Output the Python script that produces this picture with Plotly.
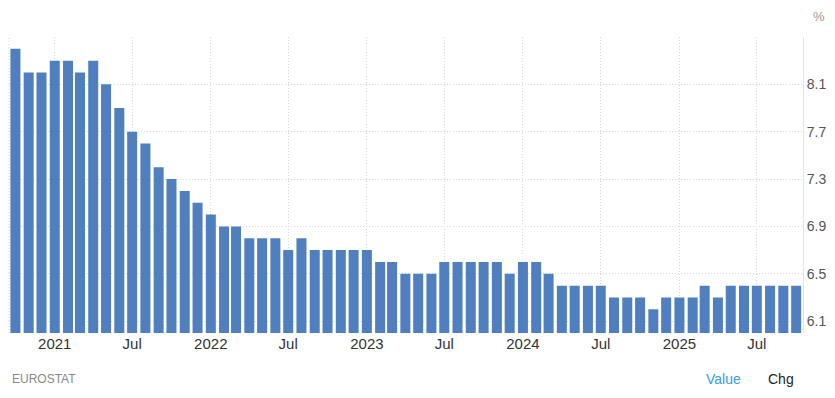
import plotly.graph_objects as go
import pandas as pd

months = pd.date_range("2020-10-01", "2025-10-01", freq="MS").strftime("%Y-%m-%d").tolist()
values = [
    8.4, 8.2, 8.2,
    8.3, 8.3, 8.2, 8.3, 8.1, 7.9, 7.7, 7.6, 7.4, 7.3, 7.2, 7.1,
    7.0, 6.9, 6.9, 6.8, 6.8, 6.8, 6.7, 6.8, 6.7, 6.7, 6.7, 6.7,
    6.7, 6.6, 6.6, 6.5, 6.5, 6.5, 6.6, 6.6, 6.6, 6.6, 6.6, 6.5,
    6.6, 6.6, 6.5, 6.4, 6.4, 6.4, 6.4, 6.3, 6.3, 6.3, 6.2, 6.3,
    6.3, 6.3, 6.4, 6.3, 6.4, 6.4, 6.4, 6.4, 6.4, 6.4,
]
x_tickvals = ["2021-01-01", "2021-07-01", "2022-01-01", "2022-07-01", "2023-01-01",
              "2023-07-01", "2024-01-01", "2024-07-01", "2025-01-01", "2025-07-01"]
x_ticktext = ["2021", "Jul", "2022", "Jul", "2023", "Jul", "2024", "Jul", "2025", "Jul"]
y_tickvals = [6.1, 6.5, 6.9, 7.3, 7.7, 8.1, 8.5]
y_ticktext = ["6.1", "6.5", "6.9", "7.3", "7.7", "8.1", ""]

FONT = "Liberation Sans, Arial, sans-serif"
DAY_MS = 86400000
GRID = "#d6d6d6"
DASH = "1px,2px"

fig = go.Figure(go.Bar(
    x=months, y=values,
    width=[23.4 * DAY_MS] * len(months),
    marker=dict(color="#4f7fbf", line=dict(width=0)),
    hoverinfo="x+y",
))

fig.update_layout(
    width=835, height=398,
    margin=dict(l=9, r=32, t=37, b=65),
    paper_bgcolor="white", plot_bgcolor="white",
    showlegend=False,
    font=dict(family=FONT),
    xaxis=dict(
        type="date",
        range=["2020-09-16", "2025-10-17"],
        tickvals=x_tickvals, ticktext=x_ticktext,
        tickfont=dict(size=15, color="#333333"),
        showgrid=True, gridcolor=GRID, griddash=DASH, gridwidth=1,
        zeroline=False, showline=False, ticks="",
    ),
    yaxis=dict(
        side="right",
        range=[6.0, 8.5],
        tickvals=y_tickvals, ticktext=y_ticktext,
        tickfont=dict(size=14, color="#555555"),
        showgrid=True, gridcolor=GRID, griddash=DASH, gridwidth=1,
        zeroline=False, showline=True, linecolor="#e3e3e3", linewidth=1,
        ticks="",
    ),
    shapes=[dict(type="line", xref="paper", yref="paper", x0=0, x1=0, y0=0, y1=1,
                 line=dict(color=GRID, width=1, dash=DASH), layer="below")],
    annotations=[
        dict(text="%", xref="paper", yref="paper", x=(819 - 9) / 794, y=1.07, xanchor="center",
             yanchor="middle", showarrow=False, font=dict(size=13, color="#999999")),
        dict(text="EUROSTAT", xref="paper", yref="paper", x=0.001, y=-0.155,
             xanchor="left", yanchor="middle", showarrow=False,
             font=dict(size=12, color="#888888")),
        dict(text="Value", xref="paper", yref="paper", x=(704 - 9) / 794, y=-0.155,
             xanchor="left", yanchor="middle", showarrow=False,
             font=dict(size=14, color="#3d9ae0")),
        dict(text="Chg", xref="paper", yref="paper", x=(766 - 9) / 794, y=-0.155,
             xanchor="left", yanchor="middle", showarrow=False,
             font=dict(size=14, color="#222222")),
    ],
)

fig.write_html("out.html")
